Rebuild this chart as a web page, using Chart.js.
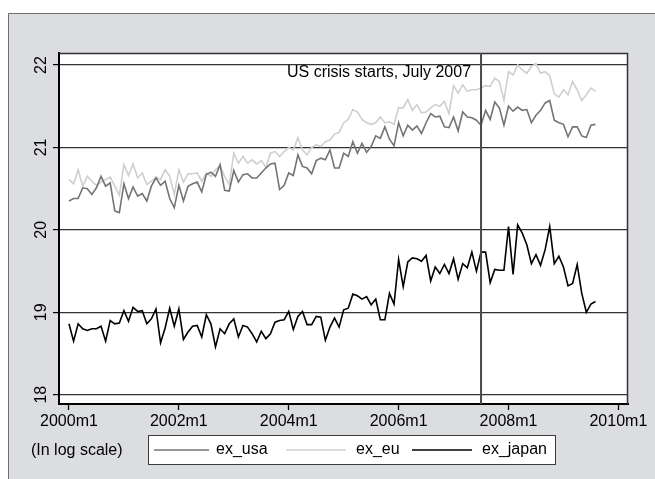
<!DOCTYPE html>
<html>
<head>
<meta charset="utf-8">
<script src="https://cdn.jsdelivr.net/npm/chart.js@4"></script>
<style>
  html, body { margin: 0; padding: 0; background: #fff; }
  canvas { display: block; }
</style>
</head>
<body>
<canvas id="c" width="655" height="479"></canvas>
<script>
// Monthly exchange-rate series (log scale), 2000m1 .. 2009m8
const startYear = 2000;

const exUsa = [
  20.35, 20.38, 20.38, 20.51, 20.50, 20.43, 20.51, 20.65, 20.53, 20.57, 20.23, 20.21,
  20.56, 20.38, 20.52, 20.41, 20.44, 20.35, 20.53, 20.63, 20.54, 20.59, 20.38, 20.27,
  20.54, 20.35, 20.53, 20.56, 20.58, 20.46, 20.67, 20.70, 20.65, 20.79, 20.48, 20.47,
  20.72, 20.58, 20.67, 20.68, 20.63, 20.63, 20.69, 20.75, 20.80, 20.81, 20.49, 20.54,
  20.69, 20.66, 20.91, 20.77, 20.75, 20.68, 20.84, 20.87, 20.85, 20.97, 20.75, 20.75,
  20.93, 20.89, 21.07, 20.93, 21.05, 20.94, 21.01, 21.14, 21.11, 21.25, 21.10, 21.02,
  21.30, 21.14, 21.27, 21.21, 21.26, 21.17, 21.30, 21.41, 21.37, 21.38, 21.25, 21.24,
  21.37, 21.20, 21.43, 21.37, 21.36, 21.33, 21.27, 21.45, 21.34, 21.55, 21.48, 21.27,
  21.50, 21.44, 21.49, 21.45, 21.46, 21.30, 21.39, 21.45, 21.54, 21.57, 21.33, 21.30,
  21.28, 21.13, 21.25, 21.25, 21.14, 21.12, 21.27, 21.28
];

const exEu = [
  20.61, 20.56, 20.73, 20.53, 20.65, 20.59, 20.54, 20.58, 20.61, 20.64, 20.53, 20.42,
  20.79, 20.66, 20.80, 20.63, 20.69, 20.55, 20.59, 20.64, 20.61, 20.73, 20.65, 20.43,
  20.73, 20.58, 20.68, 20.68, 20.69, 20.59, 20.69, 20.65, 20.73, 20.78, 20.65, 20.55,
  20.93, 20.81, 20.89, 20.81, 20.85, 20.80, 20.84, 20.76, 20.93, 20.95, 20.89, 20.95,
  21.00, 20.97, 21.12, 20.97, 20.91, 21.00, 21.03, 21.01, 21.07, 21.09, 21.16, 21.18,
  21.30, 21.34, 21.46, 21.43, 21.34, 21.30, 21.28, 21.30, 21.37, 21.30, 21.31, 21.28,
  21.48, 21.48, 21.58, 21.45, 21.52, 21.42, 21.43, 21.48, 21.52, 21.50, 21.56, 21.41,
  21.75, 21.66, 21.76, 21.68, 21.70, 21.70, 21.72, 21.75, 21.74, 21.84, 21.80, 21.57,
  21.92, 21.88, 22.00, 21.94, 21.90, 21.98, 22.02, 21.90, 21.92, 21.87, 21.65, 21.61,
  21.70, 21.64, 21.80, 21.70, 21.57, 21.64, 21.72, 21.68
];

const exJapan = [
  18.86, 18.65, 18.86, 18.80, 18.78, 18.80, 18.80, 18.83, 18.65, 18.90, 18.86, 18.87,
  19.02, 18.89, 19.06, 19.01, 19.02, 18.86, 18.92, 19.04, 18.63, 18.81, 19.05, 18.83,
  19.04, 18.67, 18.76, 18.83, 18.84, 18.70, 18.97, 18.86, 18.58, 18.80, 18.74, 18.86,
  18.92, 18.70, 18.84, 18.82, 18.74, 18.64, 18.77, 18.68, 18.74, 18.88, 18.90, 18.91,
  19.01, 18.79, 18.95, 19.01, 18.85, 18.85, 18.95, 18.94, 18.66, 18.82, 18.93, 18.82,
  19.03, 19.05, 19.22, 19.20, 19.16, 19.19, 19.09, 19.16, 18.91, 18.91, 19.23, 19.10,
  19.64, 19.31, 19.61, 19.66, 19.65, 19.62, 19.69, 19.38, 19.55, 19.47, 19.58, 19.47,
  19.65, 19.40, 19.59, 19.54, 19.73, 19.50, 19.73, 19.73, 19.36, 19.52, 19.51, 19.51,
  20.04, 19.46, 20.06, 19.96, 19.82, 19.59, 19.70, 19.57, 19.76, 20.04, 19.59, 19.68,
  19.55, 19.32, 19.35, 19.58, 19.23, 19.00, 19.10, 19.13
];

const seriesNames = ['ex_usa', 'ex_eu', 'ex_japan'];
const yTicks = [18, 19, 20, 21, 22];
const xTicks = [0, 24, 48, 72, 96, 120];      // months counted from 2000m1
const crisisMonth = 90;                        // 2007m7
const crisisText = 'US crisis starts, July 2007';
const scaleNote = '(In log scale)';

const seriesColors = ['#747474', '#cfcfcf', '#000000'];
const FONT_FAMILY = "'Liberation Sans', Arial, Helvetica, sans-serif";
const FONT = { family: FONT_FAMILY, size: 16 };

const monthLabel = m => `${startYear + Math.floor(m / 12)}m${(m % 12) + 1}`;
const toPoints = arr => arr.map((v, i) => ({ x: i, y: v }));

// Backdrop, plot frame, event marker and legend box
const frame = {
  id: 'frame',
  beforeDraw(chart) {
    const { ctx, chartArea: a, width, height } = chart;
    ctx.save();
    ctx.fillStyle = '#ffffff';
    ctx.fillRect(0, 0, width, height);
    ctx.fillStyle = '#dcdde0';
    ctx.fillRect(8, 13, width - 8, height - 13);
    ctx.strokeStyle = '#6f6f6f';
    ctx.lineWidth = 1;
    ctx.beginPath();
    ctx.moveTo(8.5, height);
    ctx.lineTo(8.5, 13.5);
    ctx.lineTo(width, 13.5);
    ctx.stroke();
    ctx.fillStyle = '#ffffff';
    ctx.fillRect(a.left, a.top, a.right - a.left, a.bottom - a.top);
    ctx.restore();
  },
  afterDraw(chart) {
    const { ctx, chartArea: a, scales } = chart;
    ctx.save();
    // top and right edges of the plot region
    ctx.strokeStyle = '#333333';
    ctx.lineWidth = 1.5;
    ctx.beginPath();
    ctx.moveTo(a.left, a.top + 0.5);
    ctx.lineTo(a.right - 0.5, a.top + 0.5);
    ctx.lineTo(a.right - 0.5, a.bottom);
    ctx.stroke();

    // crisis marker
    const cx = scales.x.getPixelForValue(crisisMonth);
    ctx.strokeStyle = '#4a4a4a';
    ctx.lineWidth = 2;
    ctx.beginPath();
    ctx.moveTo(cx, a.top);
    ctx.lineTo(cx, a.bottom);
    ctx.stroke();

    ctx.fillStyle = '#000000';
    ctx.font = `16px ${FONT_FAMILY}`;
    ctx.textAlign = 'right';
    ctx.textBaseline = 'alphabetic';
    ctx.fillText(crisisText, cx - 10, scales.y.getPixelForValue(22) + 12);

    // note and legend box
    ctx.textAlign = 'left';
    ctx.textBaseline = 'middle';
    ctx.fillText(scaleNote, 31, 451);

    ctx.fillStyle = '#ffffff';
    ctx.fillRect(148, 435, 408, 29);
    ctx.strokeStyle = '#3a3a3a';
    ctx.lineWidth = 1;
    ctx.strokeRect(148.5, 435.5, 407, 29);

    const samples = [[154, 209], [286, 346], [412, 472]];
    const textX = [216, 356, 482];
    chart.data.datasets.forEach((ds, i) => {
      ctx.strokeStyle = ds.borderColor;
      ctx.lineWidth = i === 2 ? 1.6 : 1.3;
      ctx.beginPath();
      ctx.moveTo(samples[i][0], 450);
      ctx.lineTo(samples[i][1], 450);
      ctx.stroke();
      ctx.fillStyle = '#000000';
      ctx.fillText(ds.label, textX[i], 450);
    });
    ctx.restore();
  }
};

new Chart(document.getElementById('c'), {
  type: 'line',
  data: {
    datasets: [exUsa, exEu, exJapan].map((arr, i) => ({
      label: seriesNames[i],
      data: toPoints(arr),
      borderColor: seriesColors[i],
      borderWidth: 1.6,
      pointRadius: 0,
      tension: 0,
      fill: false
    }))
  },
  options: {
    responsive: false,
    animation: false,
    devicePixelRatio: 1,
    layout: { padding: { left: 0, top: 53, right: 27, bottom: 50 } },
    plugins: { legend: { display: false }, tooltip: { enabled: false } },
    scales: {
      x: {
        type: 'linear',
        min: -2.18,
        max: 122.1,
        afterBuildTicks: s => { s.ticks = xTicks.map(v => ({ value: v })); },
        afterFit: s => { s.height = 25; s.paddingLeft = 0; s.paddingRight = 0; },
        ticks: {
          callback: v => monthLabel(v),
          autoSkip: false,
          maxRotation: 0,
          minRotation: 0,
          padding: 2,
          color: '#000000',
          font: FONT
        },
        grid: { drawOnChartArea: false, drawTicks: true, tickLength: 6, tickColor: '#000000', tickWidth: 1.3 },
        border: { display: true, color: '#000000', width: 2 }
      },
      y: {
        type: 'linear',
        min: 17.887,
        max: 22.146,
        afterBuildTicks: s => { s.ticks = yTicks.map(v => ({ value: v })); },
        afterFit: s => { s.width = 59; s.paddingTop = 0; s.paddingBottom = 0; },
        ticks: {
          callback: v => String(v),
          autoSkip: false,
          minRotation: 90,
          maxRotation: 90,
          crossAlign: 'center',
          padding: 3,
          color: '#000000',
          font: FONT
        },
        grid: { color: '#333333', lineWidth: 1.2, tickLength: 6, tickColor: '#000000', tickWidth: 1.2 },
        border: { display: true, color: '#000000', width: 2 }
      }
    }
  },
  plugins: [frame]
});
</script>
</body>
</html>
